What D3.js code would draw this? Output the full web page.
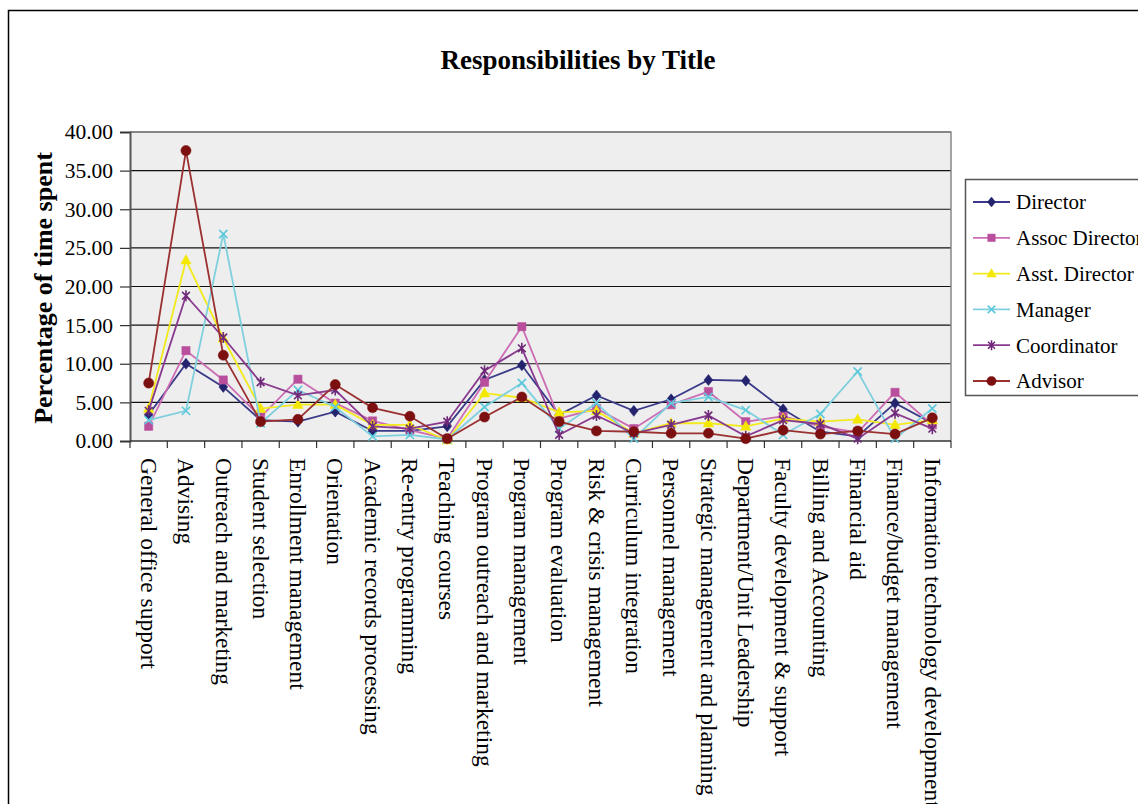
<!DOCTYPE html>
<html>
<head>
<meta charset="utf-8">
<script src="https://cdn.jsdelivr.net/npm/d3@7"></script>
<style>
  html, body { margin: 0; padding: 0; background: #fff; }
  svg { display: block; }
  text { font-family: "Liberation Serif", "Times New Roman", serif; fill: #000; }
</style>
</head>
<body>
<svg id="chart" width="1138" height="804"></svg>
<script>
const categories = ["General office support","Advising","Outreach and marketing","Student selection","Enrollment management","Orientation","Academic records processing","Re-entry programming","Teaching courses","Program outreach and marketing","Program management","Program evaluation","Risk & crisis management","Curriculum integration","Personnel management","Strategic management and planning","Department/Unit Leadership","Faculty development & support","Billing and Accounting","Financial aid","Finance/budget management","Information technology development"];

const seriesNames = ["Director","Assoc Director","Asst. Director","Manager","Coordinator","Advisor"];
const director    = [3.4,10.0,7.0,2.7,2.5,3.8,1.3,1.3,1.9,7.9,9.8,3.4,5.9,3.9,5.4,7.9,7.8,4.1,1.2,0.6,4.9,2.3];
const assocDirector = [1.9,11.7,7.9,3.1,8.0,4.9,2.6,1.4,0.3,7.6,14.8,2.9,4.2,1.6,4.7,6.4,2.5,3.2,1.9,1.1,6.3,2.1];
const asstDirector  = [4.2,23.4,13.3,4.2,4.7,4.7,2.1,2.1,0.1,6.2,5.6,3.7,3.9,1.0,2.3,2.3,1.9,2.9,2.5,2.8,2.1,2.7];
const manager     = [2.7,3.9,26.8,2.3,6.6,4.4,0.6,0.8,0.2,4.4,7.5,1.6,4.9,0.3,4.9,5.7,4.0,0.8,3.5,9.0,0.3,4.2];
const coordinator = [3.9,18.8,13.4,7.6,5.9,6.6,1.9,1.6,2.5,9.1,12.0,0.8,3.3,1.0,2.1,3.3,0.6,2.7,2.2,0.3,3.6,1.6];
const advisor     = [7.5,37.6,11.1,2.5,2.8,7.3,4.3,3.2,0.3,3.1,5.7,2.5,1.3,1.2,1.0,1.0,0.3,1.4,0.9,1.3,0.9,3.0];
const yTicks = [0,5,10,15,20,25,30,35,40];

const seriesValues = [director, assocDirector, asstDirector, manager, coordinator, advisor];
const lineColors   = ["#3a3a88","#cc6cb4","#f2ea1c","#7fd0de","#8a3a8e","#9a3030"];
const markColors   = ["#23236e","#b84e9c","#f5e800","#5cc8dc","#6e2a78","#7c0f0f"];
const markTypes    = ["diamond","square","triangle","x","star","circle"];

const svg = d3.select("#chart");
svg.append("rect").attr("width",1138).attr("height",804).attr("fill","#fff");
// outer chart border
svg.append("rect").attr("x",8.5).attr("y",10.5).attr("width",1300).attr("height",1000)
  .attr("fill","none").attr("stroke","#000").attr("stroke-width",1.5);

const L = 130, R = 951, T = 132, B = 441;
const x = d3.scaleBand().domain(categories).range([L, R]);
const y = d3.scaleLinear().domain([0, 40]).range([B, T]);

// plot background
svg.append("rect").attr("x",L).attr("y",T).attr("width",R-L).attr("height",B-T).attr("fill","#eeeeee");
// grid lines
svg.append("g").selectAll("line").data(yTicks.slice(1)).join("line")
  .attr("x1",L).attr("x2",R).attr("y1",d=>y(d)).attr("y2",d=>y(d))
  .attr("stroke","#111").attr("stroke-width",1.2);
// plot border top/right
svg.append("path").attr("d",`M${L},${T}H${R}V${B}`).attr("fill","none").attr("stroke","#888").attr("stroke-width",1.5);

// y axis
const yAxis = d3.axisLeft(y).tickValues(yTicks).tickFormat(d3.format(".2f")).tickSize(10).tickPadding(7);
const gy = svg.append("g").attr("transform",`translate(${L},0)`).call(yAxis);
gy.select(".domain").attr("stroke","#555").attr("stroke-width",2);
gy.selectAll(".tick line").attr("stroke","#333").attr("stroke-width",1.2);
gy.selectAll(".tick text").style("font-family","Liberation Serif, serif").style("font-size","21.5px").attr("fill","#000");

// x axis
const boundaries = categories.map(c => x(c)).concat([R]);
svg.append("line").attr("x1",L).attr("x2",R).attr("y1",B).attr("y2",B).attr("stroke","#333").attr("stroke-width",1.5);
svg.append("g").selectAll("line").data(boundaries).join("line")
  .attr("x1",d=>d).attr("x2",d=>d).attr("y1",B).attr("y2",B+7)
  .attr("stroke","#333").attr("stroke-width",1.2);
svg.append("g").selectAll("text").data(categories).join("text")
  .attr("transform",d=>`translate(${x(d)+x.bandwidth()/2},${B+17}) rotate(90)`)
  .attr("dy","0.33em")
  .style("font-size","23.5px")
  .text(d=>d);

// marker path generator
function markerPath(type, s) {
  switch (type) {
    case "diamond": return `M0,${-s}L${s*0.8},0L0,${s}L${-s*0.8},0Z`;
    case "square": return `M${-s*0.75},${-s*0.75}H${s*0.75}V${s*0.75}H${-s*0.75}Z`;
    case "triangle": return `M0,${-s}L${s*0.95},${s*0.7}L${-s*0.95},${s*0.7}Z`;
    case "x": return `M${-s*0.75},${-s*0.75}L${s*0.75},${s*0.75}M${s*0.75},${-s*0.75}L${-s*0.75},${s*0.75}`;
    case "star": return `M${-s*0.7},${-s*0.7}L${s*0.7},${s*0.7}M${s*0.7},${-s*0.7}L${-s*0.7},${s*0.7}M0,${-s}V${s}`;
    case "circle": return d3.symbol(d3.symbolCircle, Math.PI*s*s*0.85)();
  }
}
function drawMarker(g, type, color, s) {
  const filled = !(type === "x" || type === "star");
  g.append("path").attr("d", markerPath(type, s))
    .attr("fill", filled ? color : "none")
    .attr("stroke", color).attr("stroke-width", filled ? 0.5 : 1.6);
}

const line = d3.line().x((d,i)=>x(categories[i])+x.bandwidth()/2).y(d=>y(d));
seriesValues.forEach((vals, si) => {
  const g = svg.append("g");
  g.append("path").attr("d", line(vals)).attr("fill","none")
    .attr("stroke", lineColors[si]).attr("stroke-width",1.8);
  vals.forEach((v,i) => {
    const mg = g.append("g").attr("transform",`translate(${x(categories[i])+x.bandwidth()/2},${y(v)})`);
    drawMarker(mg, markTypes[si], markColors[si], 5.5);
  });
});

// title
svg.append("text").attr("x",578).attr("y",69).attr("text-anchor","middle")
  .style("font-size","27px").style("font-weight","bold").text("Responsibilities by Title");

// y axis title
svg.append("text").attr("transform","translate(52,288) rotate(-90)").attr("text-anchor","middle")
  .style("font-size","26px").style("font-weight","bold").text("Percentage of time spent");

// legend
const lg = svg.append("g");
lg.append("rect").attr("x",965.5).attr("y",179.5).attr("width",300).attr("height",216)
  .attr("fill","#fff").attr("stroke","#555").attr("stroke-width",1.5);
seriesNames.forEach((n, i) => {
  const yy = 202 + i*35.8;
  lg.append("line").attr("x1",973).attr("x2",1010).attr("y1",yy).attr("y2",yy)
    .attr("stroke", lineColors[i]).attr("stroke-width",1.8);
  const mg = lg.append("g").attr("transform",`translate(991.5,${yy})`);
  drawMarker(mg, markTypes[i], markColors[i], 5);
  lg.append("text").attr("x",1016).attr("y",yy).attr("dy","0.35em").style("font-size","21px").text(n);
});
</script>
</body>
</html>
